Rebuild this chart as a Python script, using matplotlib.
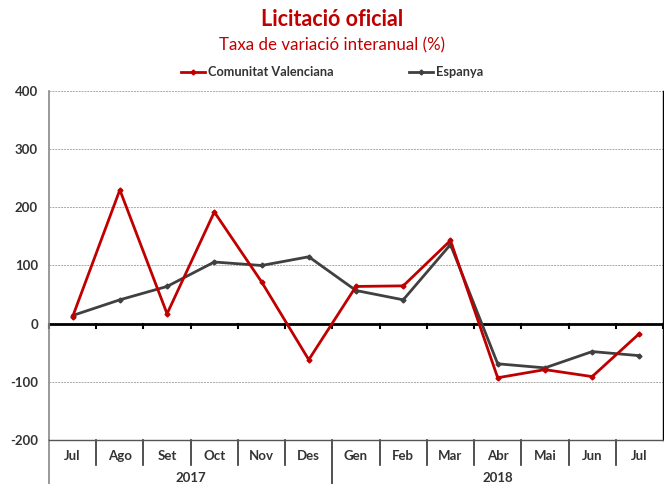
import matplotlib.pyplot as plt
import matplotlib.transforms as mtransforms

plt.rcParams['font.family'] = ['Lato', 'DejaVu Sans']

# Data
months = ["Jul", "Ago", "Set", "Oct", "Nov", "Des", "Gen", "Feb", "Mar",
          "Abr", "Mai", "Jun", "Jul"]
years = ["2017", "2018"]
year_spans = [(0, 5), (6, 12)]
valenciana = [12, 230, 17, 192, 72, -62, 64, 65, 143, -93, -79, -91, -17]
espanya = [14, 41, 64, 106, 100, 115, 57, 41, 136, -69, -76, -48, -55]

red = "#C00000"
gray = "#404040"

fig = plt.figure(figsize=(6.64, 4.84), dpi=100)
W, H = 664, 484
ax = fig.add_axes([49 / W, 1 - 440 / H, 614 / W, 349 / H])

x = list(range(len(months)))
ax.plot(x, valenciana, color=red, lw=2.0, marker="D", ms=2.5,
        label="Comunitat Valenciana", zorder=4)
ax.plot(x, espanya, color=gray, lw=2.0, marker="D", ms=2.5,
        label="Espanya", zorder=3)

ax.set_xlim(-0.5, len(months) - 0.5)
ax.set_ylim(-200, 400)
ax.set_yticks([-200, -100, 0, 100, 200, 300, 400])
ax.set_yticklabels(["-200", "-100", "0", "100", "200", "300", "400"],
                   fontweight="bold", fontsize=9.5, color="#333333")
ax.tick_params(axis="y", length=0, pad=8)
for v in [-100, 100, 200, 300, 400]:
    ax.axhline(v, color="#aaaaaa", lw=0.7, ls=(0, (2, 1)), zorder=1)
ax.axhline(0, color="black", lw=2.0, zorder=2)

# ticks on the zero line
for b in range(len(months) + 1):
    ax.plot([b - 0.5, b - 0.5], [0, -8], color="black", lw=1.5,
            zorder=2, clip_on=False)

ax.set_xticks([])
ax.spines["top"].set_visible(False)
ax.spines["left"].set_color("#888888")
ax.spines["left"].set_linewidth(1.2)
ax.spines["bottom"].set_color("#555555")
ax.spines["bottom"].set_linewidth(1.0)
ax.spines["right"].set_color("black")
ax.spines["right"].set_linewidth(1.0)

# category table below the plot
trans = mtransforms.blended_transform_factory(ax.transData, fig.transFigure)
y_top = 1 - 440 / H
y_mid = 1 - 465 / H
for i, m in enumerate(months):
    fig.text(i, 1 - 456 / H, m, transform=trans, ha="center", va="center",
             fontsize=9.5, fontweight="bold", color="#333333")
for b in range(1, len(months)):
    low = 0 if b == 6 else y_mid
    ax.plot([b - 0.5, b - 0.5], [y_top, low], transform=trans,
            color="#333333", lw=1.2, clip_on=False)
ax.plot([-0.5, -0.5], [y_top, 0], transform=trans, color="#888888",
        lw=1.2, clip_on=False)
for (a, b), yr in zip(year_spans, years):
    fig.text((a + b) / 2, 1 - 478 / H, yr, transform=trans, ha="center",
             va="center", fontsize=9.5, fontweight="bold", color="#333333")

fig.text(0.5, 1 - 19 / H, "Licitació oficial", ha="center", va="center",
         fontsize=15.5, fontweight="bold", color=red)
fig.text(0.5, 1 - 45 / H, "Taxa de variació interanual (%)", ha="center",
         va="center", fontsize=12.2, color=red)

leg = fig.legend(loc="center", bbox_to_anchor=(0.5, 1 - 72 / H), ncol=2,
                 frameon=False, prop={"weight": "bold", "size": 9.2},
                 handlelength=1.9, handletextpad=0.2, columnspacing=5.9)
for t in leg.get_texts():
    t.set_color("#333333")

fig.savefig("out.png", dpi=100)
